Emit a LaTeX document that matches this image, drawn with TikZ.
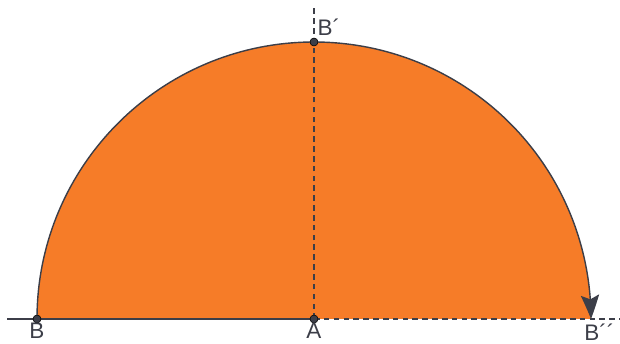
\documentclass[tikz,border=0pt]{standalone}
\usepackage{fontspec}
\setsansfont{Liberation Sans}
\usetikzlibrary{arrows.meta,bending,positioning}
\definecolor{halforange}{RGB}{246,124,40}
\definecolor{inkgray}{RGB}{60,62,72}
\tikzset{
  lbl/.style={font=\sffamily\fontsize{16}{18}\selectfont,text=inkgray,inner sep=1pt},
  dashline/.style={inkgray,line width=1pt,dash pattern=on 4pt off 3pt},
  dot/.style={fill=inkgray}
}

\begin{document}
\begin{tikzpicture}[x=0.025cm,y=0.025cm]
\useasboundingbox (0,0) rectangle (620,343);
\coordinate (A) at (314,24);
\coordinate (B) at (37,24);
\coordinate (B1) at (314,301);
\coordinate (B2) at (591,24);
\coordinate (Bt) at ([shift={(20:277)}]A);
\coordinate (L) at (7,24);
\coordinate (R) at (620,24);
\coordinate (T) at (314,335);
% half disc
\fill[halforange] (B) arc[start angle=180,end angle=0,radius=277] -- cycle;
\draw[inkgray,line width=1pt] (B) arc[start angle=180,end angle=20,radius=277];
\draw[inkgray,line width=1pt,-{Stealth[length=17pt,width=13pt,inset=3pt,bend]}] (Bt) arc[start angle=20,end angle=0,radius=277];
\draw[inkgray,line width=1pt] (L)--(A);
\draw[dashline] (A)--(R) (A)--(T);
\foreach \x in {A,B,B1}
\draw[dot] (\x) circle[radius=4];
\node[lbl,below=2pt of B] (lB) {B};
\node[lbl,below=2pt of A] (lA) {A};
\node[lbl,anchor=south west] (lB1) at (316,306) {B´};
\node[lbl,below right=2pt and -6pt of B2] (lB2) {B´´};
\end{tikzpicture}
\end{document}
